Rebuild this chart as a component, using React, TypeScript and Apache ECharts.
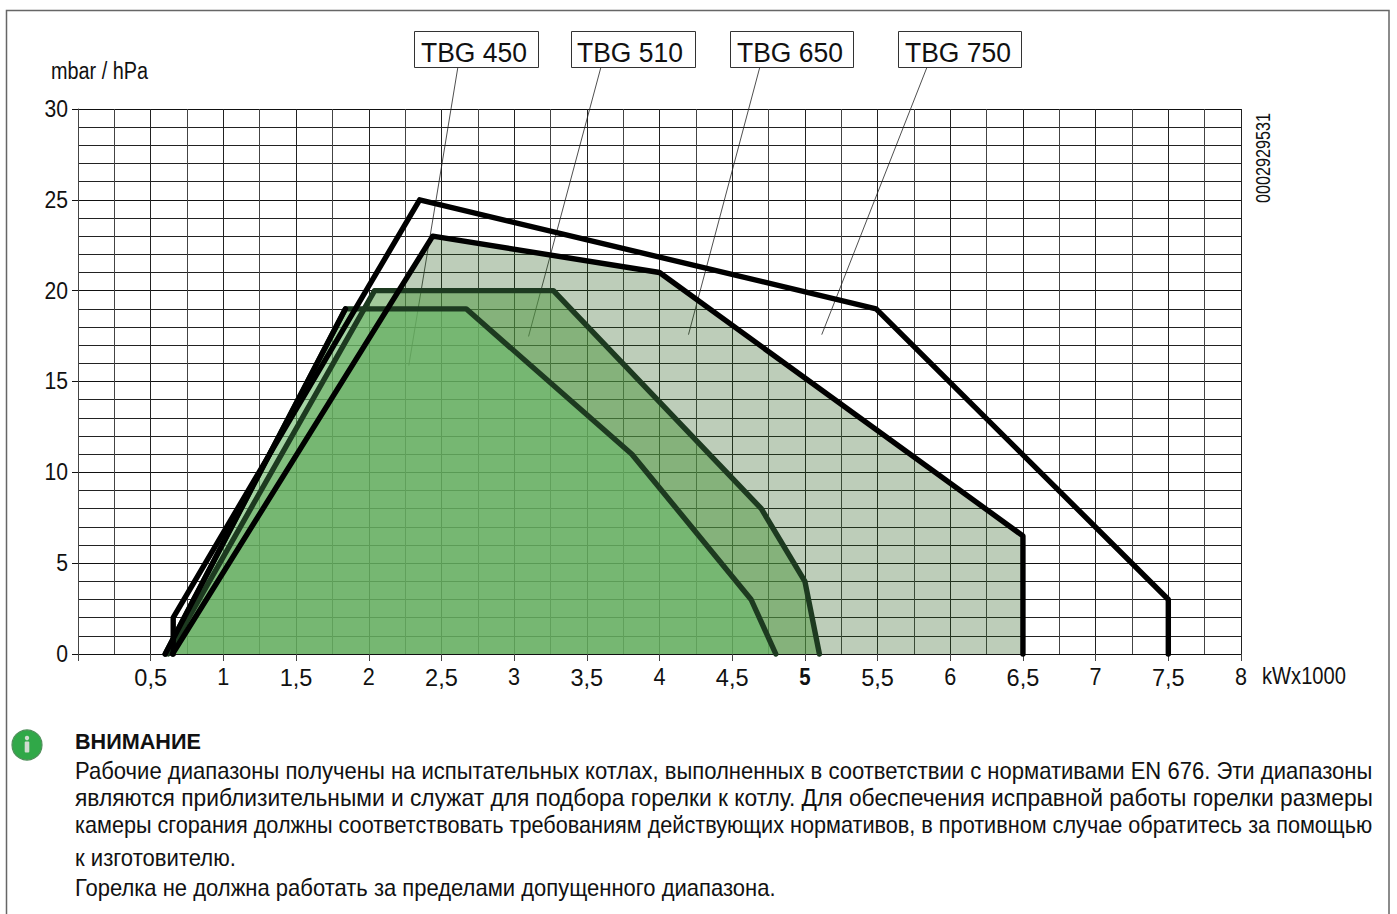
import React, { useEffect, useRef } from "react";
import * as echarts from "echarts";

const series750 = [[0.655, 0], [0.655, 2], [2.35, 25], [5.49, 19], [7.5, 3], [7.5, 0]];
const series650 = [[0.65, 0], [2.44, 23], [4, 21], [6.5, 6.5], [6.5, 0]];
const series510 = [[0.62, 0], [2.04, 20], [3.27, 20], [4.7, 8], [5, 4], [5.1, 0]];
const series450 = [[0.6, 0], [1.84, 19], [2.67, 19], [3.81, 11], [4.63, 3], [4.8, 0]];
const leader450 = [[2.613, 32.3], [2.276, 15.9]];
const leader510 = [[3.597, 32.3], [3.1, 17.5]];
const leader650 = [[4.69, 32.3], [4.2, 17.6]];
const leader750 = [[5.84, 32.3], [5.117, 17.6]];
const xTicks = [0.5, 1, 1.5, 2, 2.5, 3, 3.5, 4, 4.5, 5, 5.5, 6, 6.5, 7, 7.5, 8];
const yTicks = [0, 5, 10, 15, 20, 25, 30];
const modelLabels = ["TBG 450", "TBG 510", "TBG 650", "TBG 750"];
const noteTitle = "ВНИМАНИЕ";
const noteLines = [
  "Рабочие диапазоны получены на испытательных котлах, выполненных в соответствии с нормативами EN 676. Эти диапазоны",
  "являются приблизительными и служат для подбора горелки к котлу. Для обеспечения исправной работы горелки размеры",
  "камеры сгорания должны соответствовать требованиям действующих нормативов, в противном случае обратитесь за помощью",
  "к изготовителю.",
  "Горелка не должна работать за пределами допущенного диапазона.",
];

const FONT = '"Liberation Sans", Arial, sans-serif';

function fitScale(text: string, size: number, width: number, weight = "normal") {
  const ctx = document.createElement("canvas").getContext("2d")!;
  ctx.font = `${weight} ${size}px "Liberation Sans"`;
  return width / ctx.measureText(text).width;
}

function fitted(text: string, x: number, y: number, width: number, size: number, weight = "normal"): any {
  return {
    type: "text",
    x,
    y,
    scaleX: fitScale(text, size, width, weight),
    style: { text, fontFamily: FONT, fontSize: size, fontWeight: weight, fill: "#111", align: "left", verticalAlign: "middle" },
  };
}

function tickText(text: string, x: number, y: number, align: string, scale: number, weight = "normal"): any {
  return {
    type: "text",
    x,
    y,
    scaleX: scale,
    style: { text, fontFamily: FONT, fontSize: 24, fontWeight: weight, fill: "#111", align, verticalAlign: "middle" },
  };
}

export default function App() {
  const ref = useRef<HTMLDivElement>(null);
  useEffect(() => {
    const chart = echarts.init(ref.current!, undefined, { renderer: "svg" });
    const fillSeries = (data: number[][], color: string, z: number) => ({
      type: "line", data, z, clip: false, showSymbol: false, silent: true,
      lineStyle: { width: 0 }, areaStyle: { color, opacity: 1 },
    });
    const strokeSeries = (data: number[][], color: string, z: number, width = 5.4) => ({
      type: "line", data, z, clip: false, showSymbol: false, silent: true,
      lineStyle: { color, width, cap: "round", join: "round" },
    });
    const boxes = [[414, 124, 7], [571, 124, 6], [730, 123, 7], [898, 123, 7]];
    chart.setOption({
      animation: false,
      backgroundColor: "#fff",
      grid: { left: 78, top: 109, width: 1163, height: 545 },
      xAxis: {
        type: "value", min: 0, max: 8, interval: 0.5,
        axisLine: { show: true, onZero: false, lineStyle: { color: "#111", width: 1 } },
        axisTick: { show: true, length: 7, lineStyle: { color: "#444", width: 1 } },
        minorTick: { show: false, splitNumber: 2 },
        splitLine: { show: true, lineStyle: { color: "#222", width: 1 } },
        minorSplitLine: { show: true, lineStyle: { color: "#444", width: 1 } },
        axisLabel: { show: false },
      },
      yAxis: {
        type: "value", min: 0, max: 30, interval: 5,
        axisLine: { show: true, onZero: false, lineStyle: { color: "#444", width: 1 } },
        axisTick: { show: true, length: 6, lineStyle: { color: "#111", width: 1 } },
        minorTick: { show: false, splitNumber: 5 },
        splitLine: { show: true, lineStyle: { color: "#111", width: 1 } },
        minorSplitLine: { show: true, lineStyle: { color: "#222", width: 1 } },
        axisLabel: { show: false },
      },
      series: [
        strokeSeries(leader450, "#222", 2, 0.8),
        strokeSeries(leader510, "#222", 2, 0.8),
        strokeSeries(leader650, "#222", 2, 0.8),
        strokeSeries(leader750, "#222", 2, 0.8),
        fillSeries(series650, "rgba(35,88,22,0.3)", 3),
        fillSeries(series510, "rgba(88,156,73,0.55)", 4),
        fillSeries(series450, "rgba(110,186,108,0.62)", 5),
        strokeSeries(series510, "#1d3a20", 6),
        strokeSeries(series450, "#1d3a20", 7),
        strokeSeries(series450.slice(0, 2), "#000", 7),
        strokeSeries(series650, "#000", 8),
        strokeSeries(series750, "#000", 9),
      ],
    });
    const px = (v: number) => chart.convertToPixel({ xAxisIndex: 0 }, v) as number;
    const py = (v: number) => chart.convertToPixel({ yAxisIndex: 0 }, v) as number;
    const iconX = 27;
    const iconY = 745;
    chart.setOption({
      graphic: [
        { type: "polyline", shape: { points: [[6.5, 914], [6.5, 10.5], [1389, 10.5], [1389, 914]] }, style: { stroke: "#666", lineWidth: 1.5, fill: "none" } },
        ...modelLabels.flatMap((t, i) => [
          { type: "rect", shape: { x: boxes[i][0] + 0.5, y: 31.5, width: boxes[i][1], height: 36 }, style: { fill: "#fff", stroke: "#333", lineWidth: 1 }, z: 20 },
          { ...fitted(t, boxes[i][0] + boxes[i][2], 52, 106, 28), z: 21 },
        ]),
        ...xTicks.map((v) =>
          v === 5
            ? tickText("5", px(v), 677, "center", 0.85, "bold")
            : tickText(String(v).replace(".", ","), px(v), 677, "center", Number.isInteger(v) ? 0.9 : 0.98),
        ),
        ...yTicks.map((v) => tickText(String(v), 68, py(v), "right", 0.88)),
        fitted("mbar / hPa", 51, 71.5, 97, 23),
        fitted("kWx1000", 1262, 676, 84, 23),
        {
          type: "text", x: 1263, y: 203, rotation: Math.PI / 2,
          scaleX: fitScale("0002929531", 21, 90),
          style: { text: "0002929531", fontFamily: FONT, fontSize: 21, fill: "#111", align: "left", verticalAlign: "middle" },
        },
        { type: "circle", shape: { cx: iconX, cy: iconY, r: 15 }, style: { fill: "#30a848", stroke: "#4f8f5a", lineWidth: 1.2 } },
        { type: "circle", shape: { cx: iconX, cy: iconY - 7, r: 2.2 }, style: { fill: "#cfdccf" } },
        { type: "rect", shape: { x: iconX - 2.3, y: iconY - 3.5, width: 4.6, height: 11, r: 1 }, style: { fill: "#cfdccf" } },
        fitted(noteTitle, 75, 741, 126, 22, "bold"),
        fitted(noteLines[0], 75, 771, 1298, 23),
        fitted(noteLines[1], 75, 798, 1298, 23),
        fitted(noteLines[2], 75, 825, 1298, 23),
        fitted(noteLines[3], 75, 858, 161, 23),
        fitted(noteLines[4], 75, 888, 701, 23),
      ],
    });
    return () => chart.dispose();
  }, []);
  return <div ref={ref} style={{ position: "fixed", left: 0, top: 0, width: 1397, height: 914 }} />;
}
